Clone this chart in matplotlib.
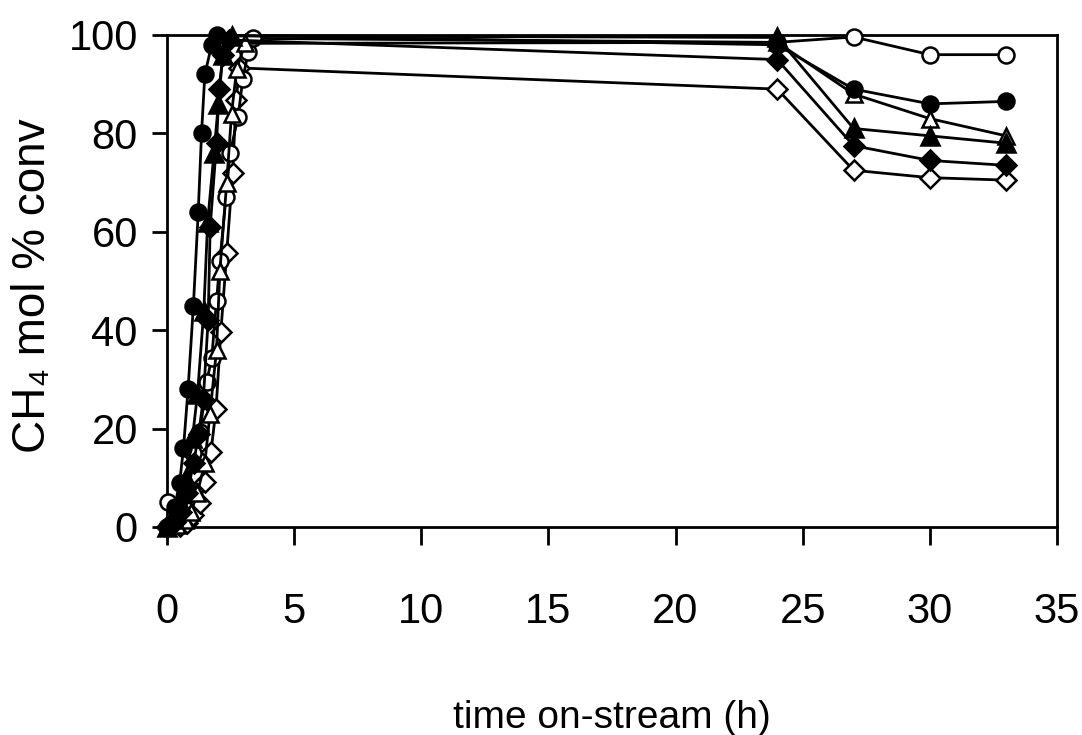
import matplotlib
matplotlib.use("Agg")
import matplotlib.pyplot as plt

# time on-stream (h) and CH4 conversion (mol %) per catalyst series
t_fc = [0, 0.3, 0.5, 0.65, 0.83, 1.04, 1.23, 1.36, 1.49, 1.76, 1.95, 24, 27, 30, 33]
v_fc = [0, 4, 9, 16, 28, 45, 64, 80, 92, 98, 100, 98, 89, 86, 86.5]

t_ft = [0, 0.25, 0.5, 0.75, 1.0, 1.2, 1.45, 1.6, 1.85, 2.02, 2.2, 2.55, 24, 27, 30, 33]
v_ft = [0, 2, 5, 10, 18, 27, 44, 62, 76, 86, 96, 99.8, 99.5, 81, 79.5, 78]

t_fd = [0, 0.3, 0.55, 0.8, 1.05, 1.25, 1.43, 1.62, 1.7, 1.95, 2.05, 2.2, 2.45, 24, 27, 30, 33]
v_fd = [0, 1, 3, 7, 13, 19, 26, 42, 61, 78, 89, 96, 99, 95, 77.5, 74.5, 73.5]

t_ot = [0, 0.4, 0.7, 0.95, 1.2, 1.49, 1.69, 1.95, 2.08, 2.35, 2.54, 2.74, 3.07, 24, 27, 30, 33]
v_ot = [0, 0.5, 1.5, 3, 7, 13, 23, 36, 52, 70, 84, 93, 98.3, 98.5, 88, 83, 79.5]

t_od = [0, 0.5, 0.77, 1.03, 1.3, 1.49, 1.73, 1.93, 2.12, 2.35, 2.58, 2.72, 2.85, 24, 27, 30, 33]
v_od = [0, 0.3, 0.8, 2.4, 4.9, 9.2, 15.3, 23.9, 39.7, 55.6, 71.9, 86.8, 93.3, 89, 72.5, 71, 70.5]

t_oc = [0.05, 0.35, 0.58, 0.77, 1.03, 1.3, 1.56, 1.76, 1.95, 2.08, 2.32, 2.48, 2.8, 2.98, 3.2, 3.39, 24, 27, 30, 33]
v_oc = [5, 1.5, 2, 8, 15, 19.4, 29.5, 34.3, 46, 54, 67, 76, 83.4, 91, 96.6, 99.3, 98.5, 99.6, 96, 96]

x_ticks = [0, 5, 10, 15, 20, 25, 30, 35]
y_ticks = [0, 20, 40, 60, 80, 100]

sans = ["Liberation Sans", "DejaVu Sans"]

fig = plt.figure(figsize=(10.82, 7.35), dpi=100)
ax = fig.add_axes([0.1543, 0.283, 0.8226, 0.6694])

series = [
    (t_od, v_od, "D", "white", 10),
    (t_oc, v_oc, "o", "white", 11.5),
    (t_ot, v_ot, "^", "white", 12),
    (t_fd, v_fd, "D", "black", 10),
    (t_ft, v_ft, "^", "black", 12.5),
    (t_fc, v_fc, "o", "black", 11.5),
]
for t, v, m, fc, ms in series:
    ax.plot(t, v, color="black", lw=2, marker=m, ms=ms, mfc=fc, mec="black",
            mew=1.8, clip_on=False, zorder=3)

ax.set_xlim(0, 35)
ax.set_ylim(0, 100)
ax.set_xticks(x_ticks)
ax.set_yticks(y_ticks)
for s in ax.spines.values():
    s.set_linewidth(2)
ax.tick_params(axis="x", direction="out", length=13, width=2, pad=34)
ax.tick_params(axis="y", direction="out", length=11, width=2, pad=10)
for lab in ax.get_xticklabels() + ax.get_yticklabels():
    lab.set_family(sans)
    lab.set_fontsize(30)

ax.set_xlabel("time on-stream (h)", family=sans, fontsize=28)
ax.xaxis.set_label_coords(0.5, -0.352)
ax.set_ylabel("CH\u2084 mol % conv", family=sans, fontsize=33)
ax.yaxis.set_label_coords(-0.126, 0.49)

fig.savefig("out.png", dpi=100)
